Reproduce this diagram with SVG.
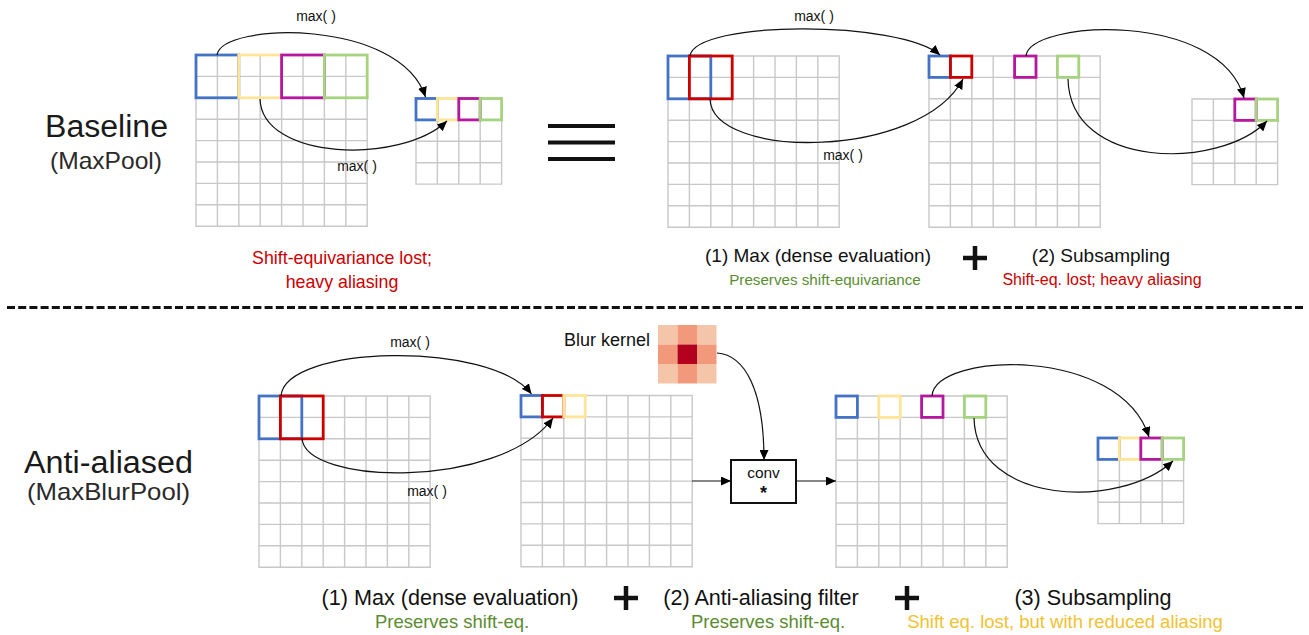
<svg xmlns="http://www.w3.org/2000/svg" width="1309" height="635" viewBox="0 0 1309 635">
<style>
.grid{fill:none;stroke:#c8c8c8;stroke-width:1.4}
.bx{fill:none;stroke-width:2.8}
.b{stroke:#4472c4}.y{stroke:#ffe597}.m{stroke:#b5179e}.g{stroke:#a5d37f}.r{stroke:#cc0000}
.t{font-family:"Liberation Sans",Arial,Helvetica,sans-serif;fill:#111}
.big{font-size:31px;fill:#1a1a1a}
.sub{font-size:24px;fill:#2a2a2a}
.mx{font-size:14px;text-anchor:middle}
.cap{font-size:19px;text-anchor:middle}
.cap2{font-size:21.6px;text-anchor:middle}
.note{font-size:15.2px;text-anchor:middle}
.note2{font-size:18.5px;text-anchor:middle}
.red{fill:#cc0000}.grn{fill:#5b8c32}.ylw{fill:#f1c232}
.conn{fill:none;stroke:#111;stroke-width:1.2}
.plus{stroke:#111;stroke-width:4.5}
</style>
<defs>
<marker id="ah" markerUnits="userSpaceOnUse" markerWidth="11" markerHeight="9" refX="10" refY="4.5" orient="auto">
<path d="M0,0 L10,4.5 L0,9 z" fill="#000"/>
</marker>
<path id="g8" class="grid" d="M0,0H171.2V171.2H0Z M21.4,0V171.2 M42.8,0V171.2 M64.2,0V171.2 M85.6,0V171.2 M107,0V171.2 M128.4,0V171.2 M149.8,0V171.2 M0,21.4H171.2 M0,42.8H171.2 M0,64.2H171.2 M0,85.6H171.2 M0,107H171.2 M0,128.4H171.2 M0,149.8H171.2"/>
<path id="g4" class="grid" d="M0,0H85.6V85.6H0Z M21.4,0V85.6 M42.8,0V85.6 M64.2,0V85.6 M0,21.4H85.6 M0,42.8H85.6 M0,64.2H85.6"/>
</defs>
<rect width="1309" height="635" fill="#fff"/>

<g id="labels">
<text class="t big" x="45" y="137" textLength="123" lengthAdjust="spacingAndGlyphs">Baseline</text>
<text class="t sub" x="50" y="169" textLength="112" lengthAdjust="spacingAndGlyphs">(MaxPool)</text>
<text class="t big" x="24" y="473" textLength="169" lengthAdjust="spacingAndGlyphs">Anti-aliased</text>
<text class="t sub" x="27" y="500" textLength="163" lengthAdjust="spacingAndGlyphs">(MaxBlurPool)</text>
</g>

<g id="grid-top-input">
<use href="#g8" x="196" y="55"/>
<rect class="bx b" x="196" y="55" width="42.8" height="42.8"/>
<rect class="bx y" x="238.8" y="55" width="42.8" height="42.8"/>
<rect class="bx m" x="281.6" y="55" width="42.8" height="42.8"/>
<rect class="bx g" x="324.4" y="55" width="42.8" height="42.8"/>
</g>
<g id="grid-top-pooled">
<use href="#g4" x="416" y="98.5"/>
<rect class="bx b" x="416" y="98.5" width="21.4" height="21.4"/>
<rect class="bx y" x="437.4" y="98.5" width="21.4" height="21.4"/>
<rect class="bx m" x="458.8" y="98.5" width="21.4" height="21.4"/>
<rect class="bx g" x="480.2" y="98.5" width="21.4" height="21.4"/>
</g>
<g id="equiv">
<path d="M548,126H615 M548,142.5H615 M548,159H615" stroke="#111" stroke-width="4"/>
</g>
<g id="grid-top-dense-in">
<use href="#g8" x="668" y="56"/>
<rect class="bx b" x="668" y="56" width="42.8" height="42.8"/>
<rect class="bx r" x="689.4" y="56" width="42.8" height="42.8"/>
</g>
<g id="grid-top-dense-out">
<use href="#g8" x="929" y="56"/>
<rect class="bx b" x="929" y="56" width="21.4" height="21.4"/>
<rect class="bx r" x="950.4" y="56" width="21.4" height="21.4"/>
<rect class="bx m" x="1014.6" y="56" width="21.4" height="21.4"/>
<rect class="bx g" x="1057.4" y="56" width="21.4" height="21.4"/>
</g>
<g id="grid-top-sub">
<use href="#g4" x="1192" y="99"/>
<rect class="bx m" x="1234.8" y="99" width="21.4" height="21.4"/>
<rect class="bx g" x="1256.2" y="99" width="21.4" height="21.4"/>
</g>

<g id="captions-top">
<text class="t red" x="342" y="264" font-size="17.8" text-anchor="middle">Shift-equivariance lost;</text>
<text class="t red" x="342" y="288" font-size="17.8" text-anchor="middle">heavy aliasing</text>
<text class="t cap" x="818" y="262">(1) Max (dense evaluation)</text>
<text class="t note grn" x="825" y="285">Preserves shift-equivariance</text>
<path class="plus" d="M963,258H987 M975,246V270"/>
<text class="t cap" x="1101" y="262">(2) Subsampling</text>
<text class="t red" x="1102" y="285" font-size="16" text-anchor="middle">Shift-eq. lost; heavy aliasing</text>
</g>

<g id="divider">
<path d="M7,307.5H1305" stroke="#111" stroke-width="3" stroke-dasharray="8,3.2"/>
</g>

<g id="grid-bot-input">
<use href="#g8" x="259" y="396"/>
<rect class="bx b" x="259" y="396" width="42.8" height="42.8"/>
<rect class="bx r" x="280.4" y="396" width="42.8" height="42.8"/>
</g>
<g id="grid-bot-dense">
<use href="#g8" x="521" y="395.5"/>
<rect class="bx b" x="521" y="395.5" width="21.4" height="21.4"/>
<rect class="bx r" x="542.4" y="395.5" width="21.4" height="21.4"/>
<rect class="bx y" x="563.8" y="395.5" width="21.4" height="21.4"/>
</g>
<g id="blur-kernel">
<text class="t" x="650" y="346" font-size="18" text-anchor="end">Blur kernel</text>
<rect x="658" y="325" width="19.5" height="19.5" fill="#f5c5a9"/>
<rect x="677.5" y="325" width="19.5" height="19.5" fill="#f3997b"/>
<rect x="697" y="325" width="19.5" height="19.5" fill="#f5c5a9"/>
<rect x="658" y="344.5" width="19.5" height="19.5" fill="#f3997b"/>
<rect x="677.5" y="344.5" width="19.5" height="19.5" fill="#b3001e"/>
<rect x="697" y="344.5" width="19.5" height="19.5" fill="#f3997b"/>
<rect x="658" y="364" width="19.5" height="19.5" fill="#f5c5a9"/>
<rect x="677.5" y="364" width="19.5" height="19.5" fill="#f3997b"/>
<rect x="697" y="364" width="19.5" height="19.5" fill="#f5c5a9"/>
</g>
<g id="conv">
<rect x="731" y="460" width="65" height="43" fill="#fff" stroke="#111" stroke-width="2"/>
<text class="t" x="763.5" y="478" font-size="15.5" text-anchor="middle">conv</text>
<text class="t" x="763.5" y="499" font-size="18" font-weight="bold" text-anchor="middle">*</text>
</g>
<g id="grid-bot-blurred">
<use href="#g8" x="836" y="396"/>
<rect class="bx b" x="836" y="396" width="21.4" height="21.4"/>
<rect class="bx y" x="878.8" y="396" width="21.4" height="21.4"/>
<rect class="bx m" x="921.6" y="396" width="21.4" height="21.4"/>
<rect class="bx g" x="964.4" y="396" width="21.4" height="21.4"/>
</g>
<g id="grid-bot-sub">
<use href="#g4" x="1098" y="438"/>
<rect class="bx b" x="1098" y="438" width="21.4" height="21.4"/>
<rect class="bx y" x="1119.4" y="438" width="21.4" height="21.4"/>
<rect class="bx m" x="1140.8" y="438" width="21.4" height="21.4"/>
<rect class="bx g" x="1162.2" y="438" width="21.4" height="21.4"/>
</g>

<g id="captions-bottom">
<text class="t cap2" x="450" y="605">(1) Max (dense evaluation)</text>
<text class="t note2 grn" x="452" y="628">Preserves shift-eq.</text>
<path class="plus" d="M614,598H638 M626,586V610"/>
<text class="t cap2" x="761" y="605">(2) Anti-aliasing filter</text>
<text class="t note2 grn" x="768" y="628">Preserves shift-eq.</text>
<path class="plus" d="M895,598H919 M907,586V610"/>
<text class="t cap2" x="1093" y="605">(3) Subsampling</text>
<text class="t note2 ylw" x="1065" y="628">Shift eq. lost, but with reduced aliasing</text>
</g>

<g id="connectors">
<path class="conn" marker-end="url(#ah)" d="M217,55 C222,22 400,18 425.5,97"/>
<path class="conn" marker-end="url(#ah)" d="M260,99 C262,160 400,165 447,121"/>
<path class="conn" marker-end="url(#ah)" d="M690,56 C695,20 900,20 940,55"/>
<path class="conn" marker-end="url(#ah)" d="M710,99 C712,160 920,160 963,79"/>
<path class="conn" marker-end="url(#ah)" d="M1026,56 C1030,20 1220,10 1244,98"/>
<path class="conn" marker-end="url(#ah)" d="M1068,79 C1070,170 1220,170 1267,121"/>
<path class="conn" marker-end="url(#ah)" d="M281,396 C285,345 490,340 531.5,394"/>
<path class="conn" marker-end="url(#ah)" d="M302,438 C304,485 500,490 553,418"/>
<path class="conn" marker-end="url(#ah)" d="M932,396 C935,352 1120,345 1149,437"/>
<path class="conn" marker-end="url(#ah)" d="M974,418 C976,505 1120,510 1173,461"/>
<path class="conn" marker-end="url(#ah)" d="M717,353 C745,355 764,390 764,460"/>
<path class="conn" marker-end="url(#ah)" d="M692,481 H731"/>
<path class="conn" marker-end="url(#ah)" d="M796,481 H836"/>
<text class="t mx" x="316" y="21">max( )</text>
<text class="t mx" x="357" y="171">max( )</text>
<text class="t mx" x="814" y="21">max( )</text>
<text class="t mx" x="843" y="160">max( )</text>
<text class="t mx" x="410" y="347">max( )</text>
<text class="t mx" x="427" y="496">max( )</text>
</g>
</svg>
